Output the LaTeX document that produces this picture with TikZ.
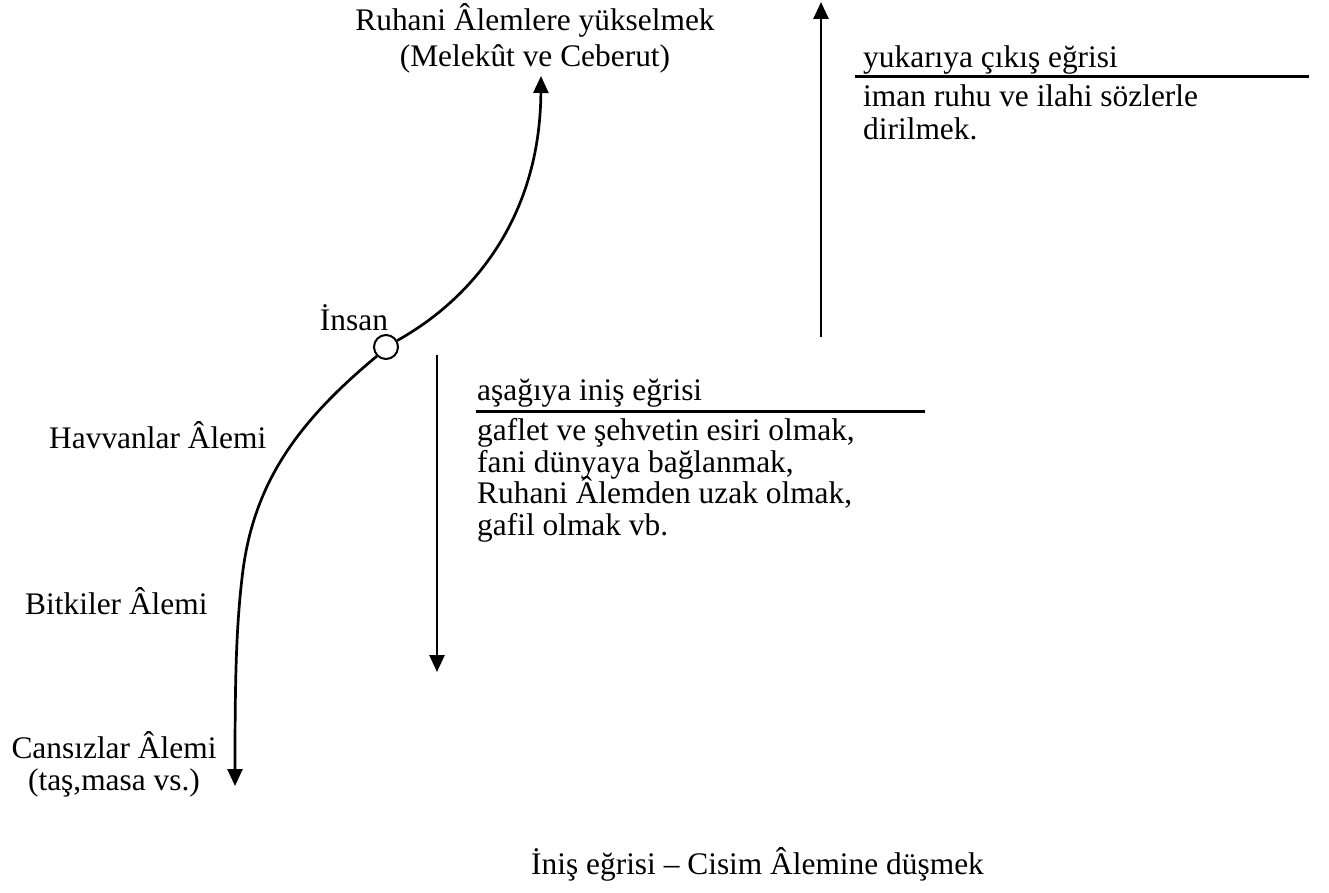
\documentclass[tikz,border=0pt]{standalone}
\usepackage{fontspec}
\setmainfont{Liberation Serif}
\usetikzlibrary{arrows.meta}
\def\lblfont{\fontsize{31.4}{31.4}\selectfont\lineskiplimit=-60pt\relax}

\begin{document}
\begin{tikzpicture}[x=1pt, y=-1pt,
		lbl/.style={inner sep=0pt, font=\lblfont},
		arr/.style={line width=2.7pt, -{Triangle[width=15pt, length=17pt]}},
		rule/.style={line width=3pt}]
		%%%%% START %%%%%
		\useasboundingbox (0, 0) rectangle (1329, 893);
		
		% multi-line nodes sit on the baseline of their last line
		\node[lbl, align=center, anchor=base] (ruhani) at (535, 67) {Ruhani Âlemlere yükselmek\\[4.6pt](Melekût ve Ceberut)};
		
		\node[draw, circle, line width=2pt, minimum size=24pt, inner sep=0pt] (insanpt) at (386, 347) {};
		\node[lbl, anchor=base] (insan) at (354, 330) {İnsan};
		
		\coordinate (uptip) at (541, 76);
		\coordinate (downtip) at (235, 786);
		\draw[arr] (insanpt.30) .. controls (470, 300) and (540, 220) .. (uptip);
		\draw[arr] (insanpt.225) .. controls (300, 420) and (255, 480) .. (243, 570) .. controls (236, 625) and (235, 680) .. (downtip);
		
		\node[lbl, anchor=base west] (havvan) at (49, 448) {Havvanlar Âlemi};
		\node[lbl, anchor=base west] (bitki) at (25, 614) {Bitkiler Âlemi};
		\node[lbl, align=center, anchor=base] (cansiz) at (114, 790) {Cansızlar Âlemi\\[0.4pt](taş,masa vs.)};
		
		% asagi inis
		\coordinate (inistop) at (437, 355);
		\coordinate (inisend) at (437, 672);
		\draw[arr] (inistop) -- (inisend);
		\node[lbl, anchor=base west] (asagi) at (477, 400) {aşağıya iniş eğrisi};
		\draw[rule] (476, 411) -- (925, 411);
		\node[lbl, align=left, anchor=base west] (gaflet) at (477, 535) {gaflet ve şehvetin esiri olmak,\\fani dünyaya bağlanmak,\\Ruhani Âlemden uzak olmak,\\gafil olmak vb.};
		
		% yukari cikis
		\coordinate (cikisbot) at (821, 337);
		\coordinate (cikistop) at (821, 2);
		\draw[arr] (cikisbot) -- (cikistop);
		\node[lbl, anchor=base west] (yukari) at (863, 68) {yukarıya çıkış eğrisi};
		\draw[rule] (855, 77) -- (1309, 77);
		\node[lbl, align=left, anchor=base west] (iman) at (863, 140) {iman ruhu ve ilahi sözlerle\\[1.6pt]dirilmek.};
		
		\node[lbl, anchor=base west] (cisim) at (531, 874) {İniş eğrisi – Cisim Âlemine düşmek};
		%%%%% END %%%%%
	\end{tikzpicture}
\end{document}
